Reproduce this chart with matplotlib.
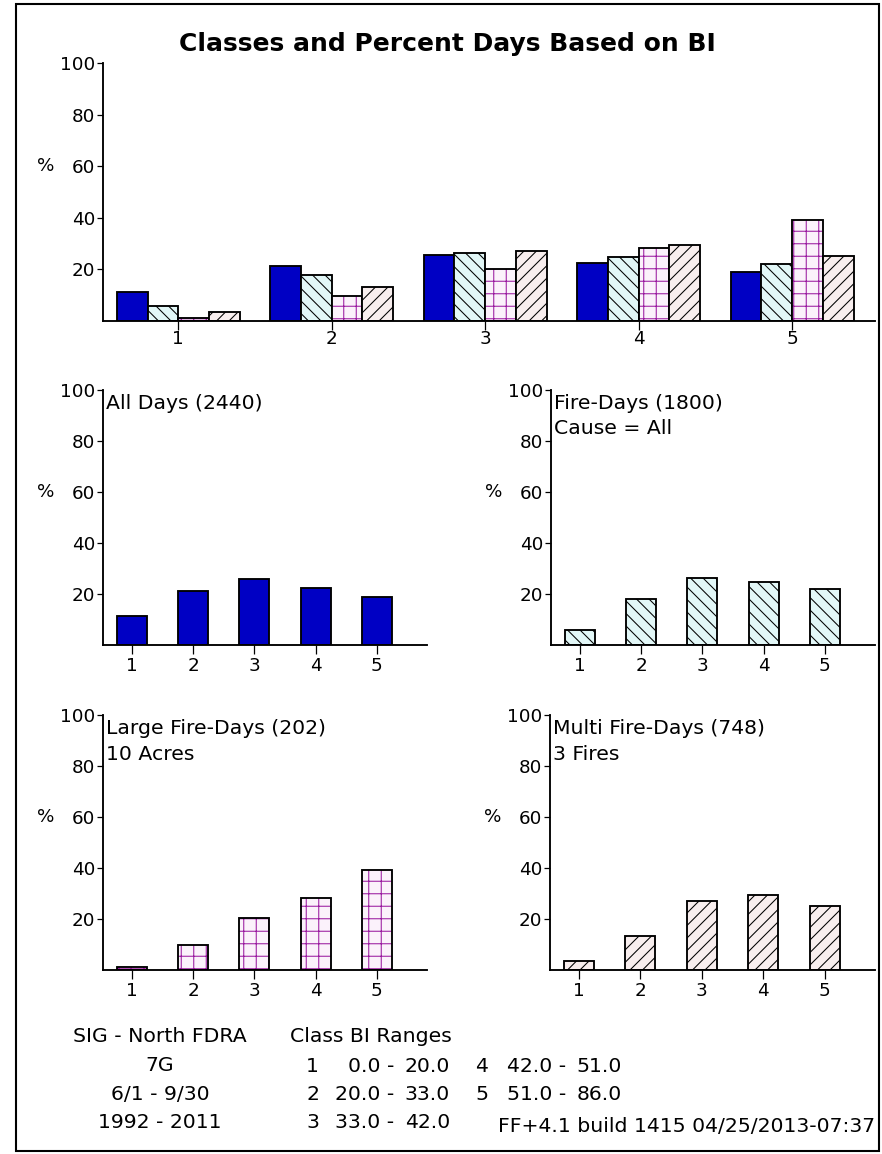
import matplotlib.pyplot as plt
from matplotlib.patches import Rectangle
import numpy as np

W, H, DPI = 882, 1154, 150

classes = [1, 2, 3, 4, 5]
all_days = [11.3, 21.2, 25.7, 22.5, 19.0]
fire_days = [6.0, 18.0, 26.3, 24.9, 22.1]
large_fire = [1.2, 9.7, 20.2, 28.4, 39.1]
multi_fire = [3.5, 13.3, 27.1, 29.3, 25.2]

series = [all_days, fire_days, large_fire, multi_fire]
panel_lines = [["All Days (2440)"],
               ["Fire-Days (1800)", "Cause = All"],
               ["Large Fire-Days (202)", "10 Acres"],
               ["Multi Fire-Days (748)", "3 Fires"]]
yticks = [20, 40, 60, 80, 100]

info_lines = ["SIG - North FDRA", "7G", "6/1 - 9/30", "1992 - 2011"]
range_class = ["1", "2", "3", "4", "5"]
range_low = ["0.0", "20.0", "33.0", "42.0", "51.0"]
range_high = ["20.0", "33.0", "42.0", "51.0", "86.0"]

plt.rcParams['font.family'] = 'DejaVu Sans'
plt.rcParams['font.size'] = 8.8
plt.rcParams['hatch.linewidth'] = 0.5

fig = plt.figure(figsize=(W / DPI, H / DPI), dpi=DPI)
TXT = 9.8


def px(n):
    # pixels -> points
    return n * 72 / DPI


def add_ax(left, top, right, bottom):
    return fig.add_axes([left / W, 1 - bottom / H, (right - left) / W, (bottom - top) / H])


def ftext(x, y, s, **kw):
    kw.setdefault('fontsize', TXT)
    fig.text(x / W, 1 - y / H, s, va='center', **kw)


def draw(ax, x, vals, width, kind):
    lw = 0.9
    if kind == 0:
        ax.bar(x, vals, width, color='#0000C4', edgecolor='black', linewidth=lw)
    elif kind == 1:
        ax.bar(x, vals, width, color='#E2F7F7', edgecolor='black', hatch='\\\\\\\\', linewidth=lw)
    elif kind == 2:
        ax.bar(x, vals, width, color='#FBF2FB', edgecolor='#9A1AA0', hatch='++', linewidth=0)
        ax.bar(x, vals, width, fill=False, edgecolor='black', linewidth=lw)
    else:
        ax.bar(x, vals, width, color='#F8EEEE', edgecolor='black', hatch='////', linewidth=lw)


def style(ax, xlim):
    ax.set_xlim(*xlim)
    ax.set_ylim(0, 100)
    ax.set_yticks(yticks)
    ax.set_xticks(classes)
    for s in ['top', 'right']:
        ax.spines[s].set_visible(False)
    for s in ['left', 'bottom']:
        ax.spines[s].set_linewidth(0.9)
    ax.tick_params(axis='y', length=px(6), width=0.6, pad=px(2))
    ax.tick_params(axis='x', length=px(9), width=0.6, pad=px(3))
    ax.patch.set_alpha(0)
    ax.annotate('%', xy=(0, 60), xycoords=ax.get_yaxis_transform(),
                xytext=(-px(57), 0), textcoords='offset points', ha='center', va='center')


# top grouped chart
ax = add_ax(103, 63, 875, 321)
x = np.array(classes)
offsets = [-0.3, -0.1, 0.1, 0.3]
for k, vals in enumerate(series):
    draw(ax, x + offsets[k], vals, 0.2, k)
style(ax, (0.51, 5.54))
ax.tick_params(axis='x', pad=px(0))
ftext(447, 44, "Classes and Percent Days Based on BI", ha='center', fontsize=12, fontweight='bold')

# four small panels
boxes = [(103, 390, 427, 645), (551, 390, 875, 645),
         (103, 715, 427, 970), (550, 715, 875, 970)]
for k, (l, t, r, b) in enumerate(boxes):
    ax = add_ax(l, t, r, b)
    draw(ax, classes, series[k], 0.49, k)
    style(ax, (0.53, 5.82))
    for j, line in enumerate(panel_lines[k]):
        ftext(l + 3, t + 14 + 25 * j, line, ha='left')

# footer text
for j, line in enumerate(info_lines):
    ftext(160, 1037 + 28.5 * j, line, ha='center')
ftext(290, 1037, "Class BI Ranges", ha='left')
for i in range(5):
    col = i // 3
    row = i % 3
    y = 1066 + 28.5 * row
    ftext([319, 488][col], y, range_class[i], ha='right')
    ftext([394, 566][col], y, range_low[i] + " -", ha='right')
    ftext([450, 622][col], y, range_high[i], ha='right')
ftext(875, 1126, "FF+4.1 build 1415 04/25/2013-07:37", ha='right')

# outer frame
fig.patches.append(Rectangle((16 / W, 1 - 1151 / H), (879 - 16) / W, (1151 - 4) / H,
                             transform=fig.transFigure, fill=False, edgecolor='black', linewidth=1.0))

fig.savefig('out.png', dpi=DPI)
